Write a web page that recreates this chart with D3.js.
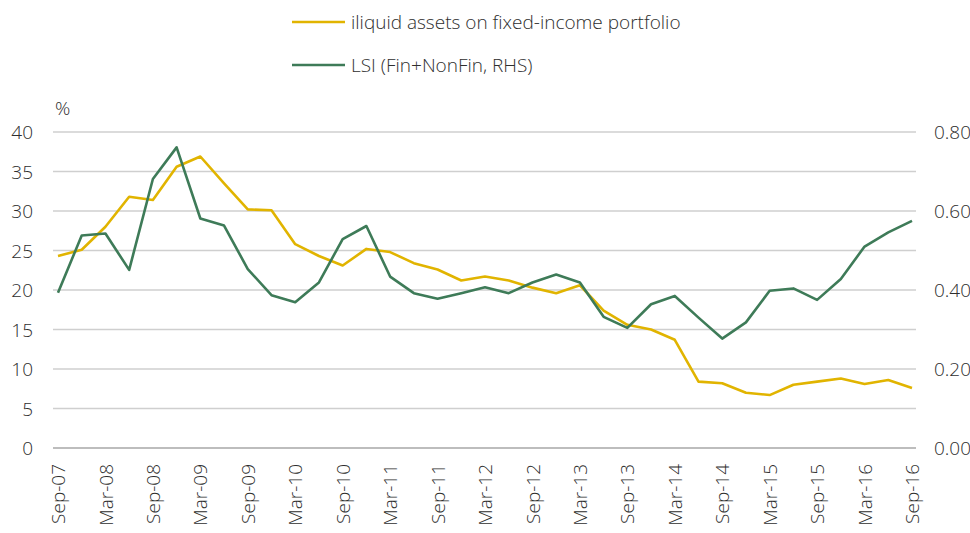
<!DOCTYPE html>
<html>
<head>
<meta charset="utf-8">
<script src="https://cdn.jsdelivr.net/npm/d3@7"></script>
<style>
  body { margin: 0; background: #fff; }
  svg text { font-family: "Open Sans", "Noto Sans", sans-serif; fill: #2e2e2e; font-weight: 300; }
</style>
</head>
<body>
<div id="chart"></div>
<script>
// quarterly dates, Sep-07 .. Sep-16
var quarters = ["Sep-07","Dec-07","Mar-08","Jun-08","Sep-08","Dec-08","Mar-09","Jun-09","Sep-09","Dec-09",
  "Mar-10","Jun-10","Sep-10","Dec-10","Mar-11","Jun-11","Sep-11","Dec-11","Mar-12","Jun-12",
  "Sep-12","Dec-12","Mar-13","Jun-13","Sep-13","Dec-13","Mar-14","Jun-14","Sep-14","Dec-14",
  "Mar-15","Jun-15","Sep-15","Dec-15","Mar-16","Jun-16","Sep-16"];

// iliquid assets on fixed-income portfolio (%, left axis)
var illiquid = [24.3, 25.1, 28.0, 31.8, 31.4, 35.6, 36.9, 33.5, 30.2, 30.1,
  25.8, 24.3, 23.1, 25.2, 24.8, 23.4, 22.6, 21.2, 21.7, 21.2,
  20.3, 19.6, 20.6, 17.4, 15.6, 15.0, 13.7, 8.4, 8.2, 7.0,
  6.7, 8.0, 8.4, 8.8, 8.1, 8.6, 7.6];

// LSI (Fin+NonFin), right axis
var lsi = [0.393, 0.538, 0.543, 0.451, 0.681, 0.761, 0.581, 0.563, 0.453, 0.387,
  0.369, 0.419, 0.529, 0.562, 0.434, 0.392, 0.378, 0.392, 0.407, 0.392,
  0.419, 0.439, 0.419, 0.332, 0.304, 0.364, 0.385, 0.330, 0.277, 0.318,
  0.398, 0.404, 0.375, 0.428, 0.510, 0.546, 0.575];

var leftTicks = [0, 5, 10, 15, 20, 25, 30, 35, 40];
var rightTicks = [0, 0.2, 0.4, 0.6, 0.8];
var xLabels = quarters.filter(function(d, i) { return i % 2 === 0; });

var seriesNames = ["iliquid assets on fixed-income portfolio", "LSI (Fin+NonFin, RHS)"];
var colors = ["#e1b400", "#3e7b58"];

var width = 970, height = 533;
var gridLeft = 53, gridRight = 916;
var fontSize = "19px";

var svg = d3.select("#chart").append("svg")
    .attr("width", width)
    .attr("height", height);

var x = d3.scalePoint()
    .domain(quarters)
    .range([58, 912]);

var yL = d3.scaleLinear().domain([0, 40]).range([448, 132]);
var yR = d3.scaleLinear().domain([0, 0.8]).range([448, 132]);

// gridlines
svg.append("g").selectAll("line")
    .data(leftTicks)
    .enter().append("line")
    .attr("x1", gridLeft)
    .attr("x2", gridRight)
    .attr("y1", function(d) { return yL(d); })
    .attr("y2", function(d) { return yL(d); })
    .style("stroke", function(d) { return d === 0 ? "#bdbdbd" : "#cfcfcf"; })
    .style("stroke-width", function(d) { return d === 0 ? 2 : 1.3; });

// left axis
var leftAxis = svg.append("g")
    .attr("transform", "translate(33,0)")
    .call(d3.axisLeft(yL).tickValues(leftTicks).tickSize(0).tickPadding(0));
leftAxis.select(".domain").remove();
leftAxis.selectAll("text").style("font-size", fontSize).attr("dy", "0.35em");

// right axis
var rightAxis = svg.append("g")
    .attr("transform", "translate(934,0)")
    .call(d3.axisRight(yR).tickValues(rightTicks).tickFormat(d3.format(".2f")).tickSize(0).tickPadding(0));
rightAxis.select(".domain").remove();
rightAxis.selectAll("text").style("font-size", fontSize).attr("dy", "0.35em");

// bottom axis labels
var bottomAxis = svg.append("g")
    .attr("transform", "translate(0,464)")
    .call(d3.axisBottom(x).tickValues(xLabels).tickSize(0).tickPadding(0));
bottomAxis.select(".domain").remove();
bottomAxis.selectAll("text")
    .style("font-size", fontSize)
    .style("text-anchor", "end")
    .attr("transform", "rotate(-90)")
    .attr("x", 0)
    .attr("y", 0)
    .attr("dy", "0.35em");

// % label
svg.append("text")
    .attr("x", 55)
    .attr("y", 115)
    .style("font-size", fontSize)
    .text("%");

// lines
var lineL = d3.line()
    .x(function(d, i) { return x(quarters[i]); })
    .y(function(d) { return yL(d); });
var lineR = d3.line()
    .x(function(d, i) { return x(quarters[i]); })
    .y(function(d) { return yR(d); });

svg.append("path")
    .datum(illiquid)
    .attr("d", lineL)
    .style("fill", "none")
    .style("stroke", colors[0])
    .style("stroke-width", 2.6)
    .style("stroke-linejoin", "round");

svg.append("path")
    .datum(lsi)
    .attr("d", lineR)
    .style("fill", "none")
    .style("stroke", colors[1])
    .style("stroke-width", 2.6)
    .style("stroke-linejoin", "round");

// legend
var legend = svg.append("g").selectAll("g")
    .data(seriesNames)
    .enter().append("g")
    .attr("transform", function(d, i) { return "translate(292," + (22 + i * 43) + ")"; });

legend.append("line")
    .attr("x1", 0)
    .attr("x2", 53)
    .style("stroke", function(d, i) { return colors[i]; })
    .style("stroke-width", 2.6);

legend.append("text")
    .attr("x", 59)
    .attr("dy", "0.35em")
    .style("font-size", fontSize)
    .text(function(d) { return d; });
</script>
</body>
</html>
